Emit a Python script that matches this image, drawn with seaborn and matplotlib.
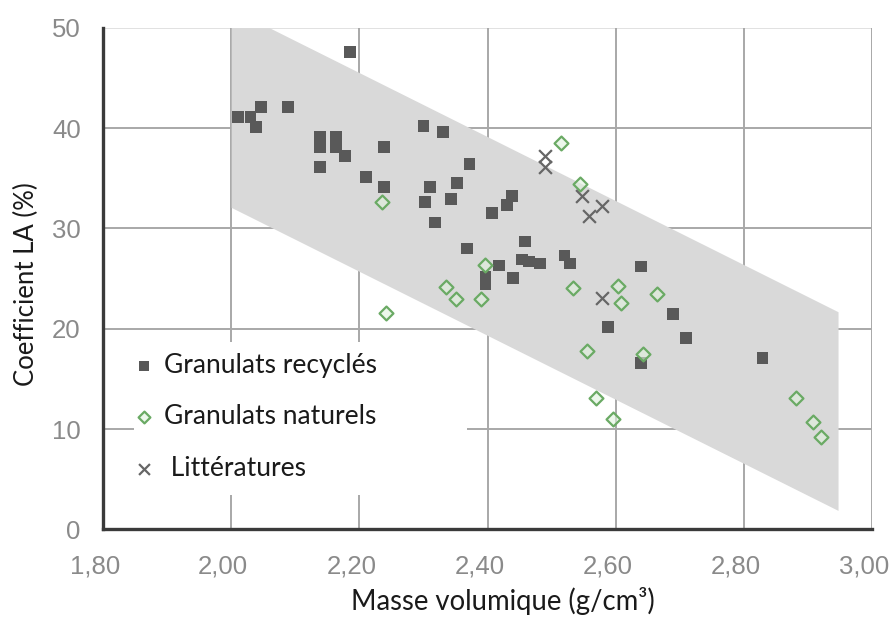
import matplotlib
matplotlib.use('Agg')
import matplotlib.pyplot as plt
import seaborn as sns
import pandas as pd
from matplotlib.patches import Rectangle
from matplotlib.transforms import ScaledTranslation

# Granulats recycles (squares)
recy_x = [2.186, 2.047, 2.089, 2.011, 2.030, 2.039, 2.139, 2.163, 2.139, 2.163,
          2.178, 2.139, 2.210, 2.239, 2.239, 2.300, 2.310, 2.302, 2.318, 2.330,
          2.372, 2.352, 2.343, 2.438, 2.430, 2.407, 2.368, 2.459, 2.418, 2.397,
          2.397, 2.440, 2.454, 2.465, 2.482, 2.520, 2.529, 2.640, 2.588, 2.690,
          2.710, 2.640, 2.829]
recy_y = [47.6, 42.1, 42.1, 41.1, 41.1, 40.1, 39.1, 39.1, 38.1, 38.1,
          37.2, 36.1, 35.1, 38.1, 34.1, 40.2, 34.1, 32.6, 30.6, 39.6,
          36.4, 34.5, 32.9, 33.2, 32.3, 31.5, 28.0, 28.7, 26.3, 25.2,
          24.5, 25.1, 26.9, 26.7, 26.5, 27.3, 26.5, 26.2, 20.2, 21.5,
          19.1, 16.6, 17.1]

# Granulats naturels (diamonds)
nat_x = [2.236, 2.242, 2.515, 2.545, 2.396, 2.336, 2.351, 2.390, 2.534, 2.604,
         2.609, 2.664, 2.556, 2.642, 2.570, 2.596, 2.881, 2.908, 2.920]
nat_y = [32.6, 21.6, 38.5, 34.4, 26.4, 24.2, 23.0, 23.0, 24.1, 24.3,
         22.6, 23.5, 17.8, 17.5, 13.1, 11.0, 13.1, 10.7, 9.2]

# Litteratures (crosses)
lit_x = [2.490, 2.490, 2.548, 2.579, 2.559, 2.579]
lit_y = [37.2, 36.1, 33.2, 32.2, 31.2, 23.1]

# grey band
band_x = [2.00, 2.947]
band_upper = [51.9, 21.7]
band_lower = [32.1, 1.9]

xticks = [1.80, 2.00, 2.20, 2.40, 2.60, 2.80, 3.00]
xtick_labels = ['1,80', '2,00', '2,20', '2,40', '2,60', '2,80', '3,00']
yticks = [0, 10, 20, 30, 40, 50]

recy = pd.DataFrame({'x': recy_x, 'y': recy_y})
nat = pd.DataFrame({'x': nat_x, 'y': nat_y})
lit = pd.DataFrame({'x': lit_x, 'y': lit_y})

sns.set_style('white')
fig = plt.figure(figsize=(8.95, 6.19), dpi=100)
ax = fig.add_axes([0.1151, 0.1446, 0.8592, 0.8106])

ax.set_axisbelow(True)
ax.grid(True, color='#a8a8a8', linewidth=1.4)
ax.fill_between(band_x, band_lower, band_upper, color='#d9d9d9', linewidth=0, zorder=1)
# white legend background
ax.add_patch(Rectangle((0.040, 0.069), 0.433, 0.305, transform=ax.transAxes,
                       facecolor='white', edgecolor='none', zorder=1.5))

sns.scatterplot(data=recy, x='x', y='y', ax=ax, marker='s', s=72, color='#595959',
                edgecolor='none', label='Granulats recyclés', zorder=3)
sns.scatterplot(data=nat, x='x', y='y', ax=ax, marker='D', s=50,
                color=(0.88, 0.95, 0.87, 0.6), edgecolor='#6aaa64', linewidth=1.6,
                label='Granulats naturels', zorder=4)
sns.scatterplot(data=lit, x='x', y='y', ax=ax, marker='x', s=85, color='#666666',
                linewidth=1.6, label=' Littératures', zorder=5)

ax.set_xlim(1.80, 3.00)
ax.set_ylim(0, 50)
ax.set_xticks(xticks)
ax.set_xticklabels(xtick_labels)
ax.set_yticks(yticks)
ax.tick_params(axis='both', length=0, labelsize=18.5, labelcolor='#8a8a8a')
ax.tick_params(axis='x', pad=18)
ax.tick_params(axis='y', pad=16)
shift = ScaledTranslation(-8 / 100, 0, fig.dpi_scale_trans)
for lab in ax.get_xticklabels():
    lab.set_fontfamily('Liberation Sans')
    lab.set_transform(lab.get_transform() + shift)
for lab in ax.get_yticklabels():
    lab.set_fontfamily('Liberation Sans')
ax.yaxis.get_gridlines()[-1].set_alpha(0.35)

for s in ['top', 'right']:
    ax.spines[s].set_visible(False)
for s in ['left', 'bottom']:
    ax.spines[s].set_color('#3a3a3a')
    ax.spines[s].set_linewidth(2.4)

ax.set_xlabel('Masse volumique (g/cm³)', fontsize=19.8, family='Lato', color='#1a1a1a')
ax.set_ylabel('Coefficient LA (%)', fontsize=18.5, family='Lato', color='#1a1a1a')
ax.xaxis.set_label_coords(0.52, -0.114)
ax.yaxis.set_label_coords(-0.083, 0.49)

leg = ax.legend(loc='upper left', bbox_to_anchor=(0.043, 0.352), frameon=False,
                borderpad=0, borderaxespad=0, handlelength=0.6, handletextpad=0.47,
                labelspacing=1.0, markerscale=0.85, prop={'family': 'Lato', 'size': 19})
for t in leg.get_texts():
    t.set_color('#1a1a1a')

plt.savefig('out.png', dpi=100)
